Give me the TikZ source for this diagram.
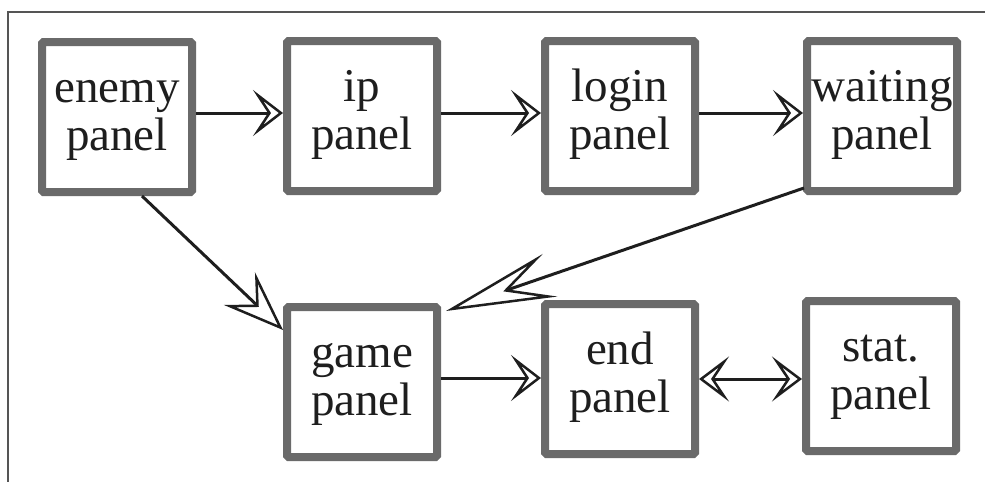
\documentclass[tikz,border=0pt]{standalone}
\usepackage{fontspec}
\setmainfont{Liberation Serif}
\usetikzlibrary{arrows.meta}
\definecolor{boxgray}{HTML}{6A6A6A}
\definecolor{ink}{HTML}{1E1E1E}
\definecolor{framegray}{HTML}{555555}
\begin{document}
\begin{tikzpicture}[x=1pt,y=-1pt,
  panel/.style={draw=boxgray, line width=8pt, rounded corners=1.5pt,
    minimum width=150pt, minimum height=150pt, inner sep=0pt,
    align=center, text=ink, font=\fontsize{47}{48}\selectfont},
  conn/.style={draw=ink, line width=3pt},
  hhead/.style={-{Stealth[open, length=30pt, width=46pt, inset=15pt, line width=2.5pt]}},
  bothhead/.style={{Stealth[open, length=30pt, width=45pt, inset=15pt, line width=2.5pt]}-{Stealth[open, length=30pt, width=45pt, inset=15pt, line width=2.5pt]}},
  shorthead/.style={-{Stealth[open, length=60pt, width=45pt, inset=23pt, line width=2.5pt]}},
  longhead/.style={-{Stealth[open, length=110pt, width=45pt, inset=44pt, line width=2.5pt]}}
]
\useasboundingbox (0,0) rectangle (985,482);
\draw[framegray, line width=1.2pt] (985,12) -- (8,12) -- (8,482);

\node[panel] (enemy)   at (117,117) {\strut enemy\\panel\strut};
\node[panel] (ip)      at (362,116) {\strut ip\\panel\strut};
\node[panel] (login)   at (620,116) {\strut login\\panel\strut};
\node[panel] (waiting) at (882,116) {\strut waiting\\panel\strut};
\node[panel] (game)    at (362,382) {\strut game\\panel\strut};
\node[panel] (end)     at (620,379) {\strut end\\panel\strut};
\node[panel] (stat)    at (881,376) {\strut stat.\\panel\strut};

\draw[conn, hhead] ([yshift=3pt]ip.west -| enemy.east) -- ([yshift=3pt]ip.west);
\draw[conn, hhead] ([yshift=3pt]ip.east) -- ([yshift=3pt]login.west);
\draw[conn, hhead] ([yshift=3pt]login.east) -- ([yshift=3pt]login.east -| waiting.west);
\draw[conn, hhead] ([yshift=1pt]end.west -| game.east) -- ([yshift=1pt]end.west);
\draw[conn, bothhead] (end.east) -- (end.east -| stat.west);
\draw[conn, shorthead] ([xshift=25pt]enemy.south) -- ([yshift=52pt]game.west);
\draw[conn, longhead] ([shift={(1pt,7pt)}]waiting.south west) -- ([shift={(5pt,-8pt)}]game.north east);
\end{tikzpicture}
\end{document}
